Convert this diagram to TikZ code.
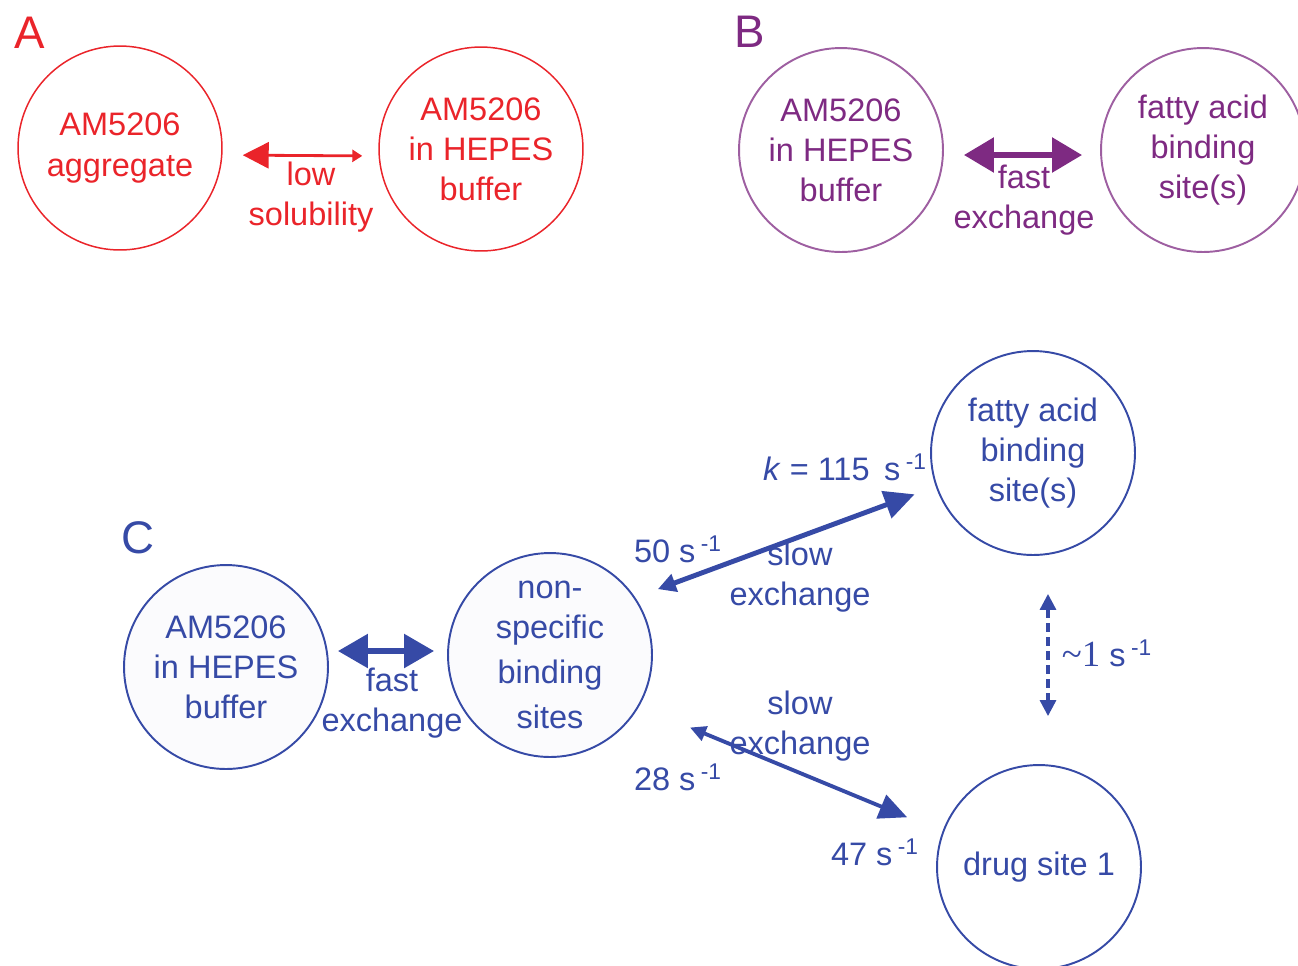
\documentclass[tikz,border=0pt]{standalone}
\usepackage{fontspec}
\setmainfont{Liberation Sans}
\newfontfamily\tildefont{Liberation Serif}
\usetikzlibrary{arrows.meta, positioning}

\definecolor{ared}{RGB}{234,36,42}
\definecolor{bpurple}{RGB}{126,42,130}
\definecolor{cblue}{RGB}{54,74,166}

\begin{document}
\begin{tikzpicture}[
    x=0.02cm, y=-0.02cm,
    site/.style={circle, draw, line width=1.1pt, minimum size=4.08cm, inner sep=0pt, align=center, font=\fontsize{18.5}{22.8}\selectfont},
    tag/.style={font=\fontsize{26}{30}\selectfont},
    lbl/.style={align=center, inner sep=0pt, font=\fontsize{18.5}{22.8}\selectfont},
]
    \useasboundingbox (0,0) rectangle (1298,965);

    %% A: aggregate vs buffer
    \node [tag, text=ared] (labA) at (30,33) {A};
    \node [site, draw=ared, line width=0.85pt, text=ared] (aggA) at (120,148) {AM5206\\aggregate};
    \node [site, draw=ared, line width=0.85pt, text=ared] (bufA) at (481,149) {AM5206\\in HEPES\\buffer};
    \draw [ared, line width=1.6pt, {Triangle[length=0.52cm, width=0.52cm]}-{Triangle[length=0.2cm, width=0.24cm]},
           shorten <=0.4cm, shorten >=0.32cm] ([yshift=-0.14cm]aggA.east) -- ([yshift=-0.14cm]bufA.west);
    \node [lbl, text=ared] (solA) at (311,197) {low\\solubility};

    %% B: buffer vs fatty acid site
    \node [tag, text=bpurple] (labB) at (750,32) {B};
    \node [site, draw=bpurple!75, text=bpurple] (bufB) at (841,150) {AM5206\\in HEPES\\buffer};
    \node [site, draw=bpurple!75, text=bpurple] (fattyB) at (1203,150) {fatty acid\\binding\\site(s)};
    \draw [bpurple, line width=3.2pt, {Triangle[length=0.6cm, width=0.68cm]}-{Triangle[length=0.6cm, width=0.68cm]},
           shorten <=0.4cm, shorten >=0.36cm] ([yshift=-0.1cm]bufB.east) -- ([yshift=-0.1cm]fattyB.west);
    \node [lbl, text=bpurple] (exB) at (1024,200) {fast\\exchange};

    %% C: full exchange scheme
    \begin{scope}[every node/.append style={text=cblue}]
        \node [tag] (labC) at (138,538) {C};
        \node [site, draw=cblue, fill=cblue!2] (bufC) at (226,667) {AM5206\\in HEPES\\buffer};
        \node [site, draw=cblue, fill=cblue!2] (nonspec) at (550,655) {non-\\specific\\[0.1cm]binding\\[0.1cm]sites};
        \node [site, draw=cblue] (fatty) at (1033,453) {fatty acid\\binding\\site(s)};
        \node [site, draw=cblue] (drug) at (1039,867) {drug site 1};

        % fast exchange
        \draw [cblue, line width=3.2pt, {Triangle[length=0.6cm, width=0.66cm]}-{Triangle[length=0.6cm, width=0.66cm]},
               shorten <=0.18cm, shorten >=0.26cm] ([yshift=0.32cm]bufC.east) -- ([yshift=0.08cm]nonspec.west);
        \node [lbl] (exC) at (392,703) {fast\\exchange};

        % slow exchange to fatty acid site
        \draw [cblue, line width=2.8pt, {Triangle[length=0.36cm, width=0.36cm]}-{Triangle[length=0.6cm, width=0.56cm]},
               shorten <=0.48cm, shorten >=0.45cm] (nonspec.34) -- (fatty.199);
        \node [lbl] (slowF) at (800,577) {slow\\exchange};
        \node [lbl] (kF) at (845,467) {\textit{k} = 115\, s\,\textsuperscript{-1}};
        \node [lbl] (kFb) at (678,549) {50 s\,\textsuperscript{-1}};

        % slow exchange to drug site
        \draw [cblue, line width=2.2pt, {Triangle[length=0.32cm, width=0.3cm]}-{Triangle[length=0.56cm, width=0.5cm]},
               shorten <=1.1cm, shorten >=0.76cm] (nonspec.-30) -- (drug.160);
        \node [lbl] (slowD) at (800,726) {slow\\exchange};
        \node [lbl] (kDb) at (678,777) {28 s\,\textsuperscript{-1}};
        \node [lbl] (kD) at (875,852) {47 s\,\textsuperscript{-1}};

        % fatty acid site <-> drug site
        \draw [cblue, line width=1.8pt, dash pattern=on 0.18cm off 0.1cm,
               {Triangle[length=0.32cm, width=0.32cm]}-{Triangle[length=0.32cm, width=0.32cm]},
               shorten <=0.76cm, shorten >=0.96cm] ([xshift=0.3cm]fatty.south) -- ([xshift=0.3cm]fatty.south |- drug.north);
        \node [lbl] (kFD) at (1107,653) {{\tildefont\fontsize{21}{24}\selectfont\textasciitilde1} s\,\textsuperscript{-1}};
    \end{scope}
\end{tikzpicture}
\end{document}
